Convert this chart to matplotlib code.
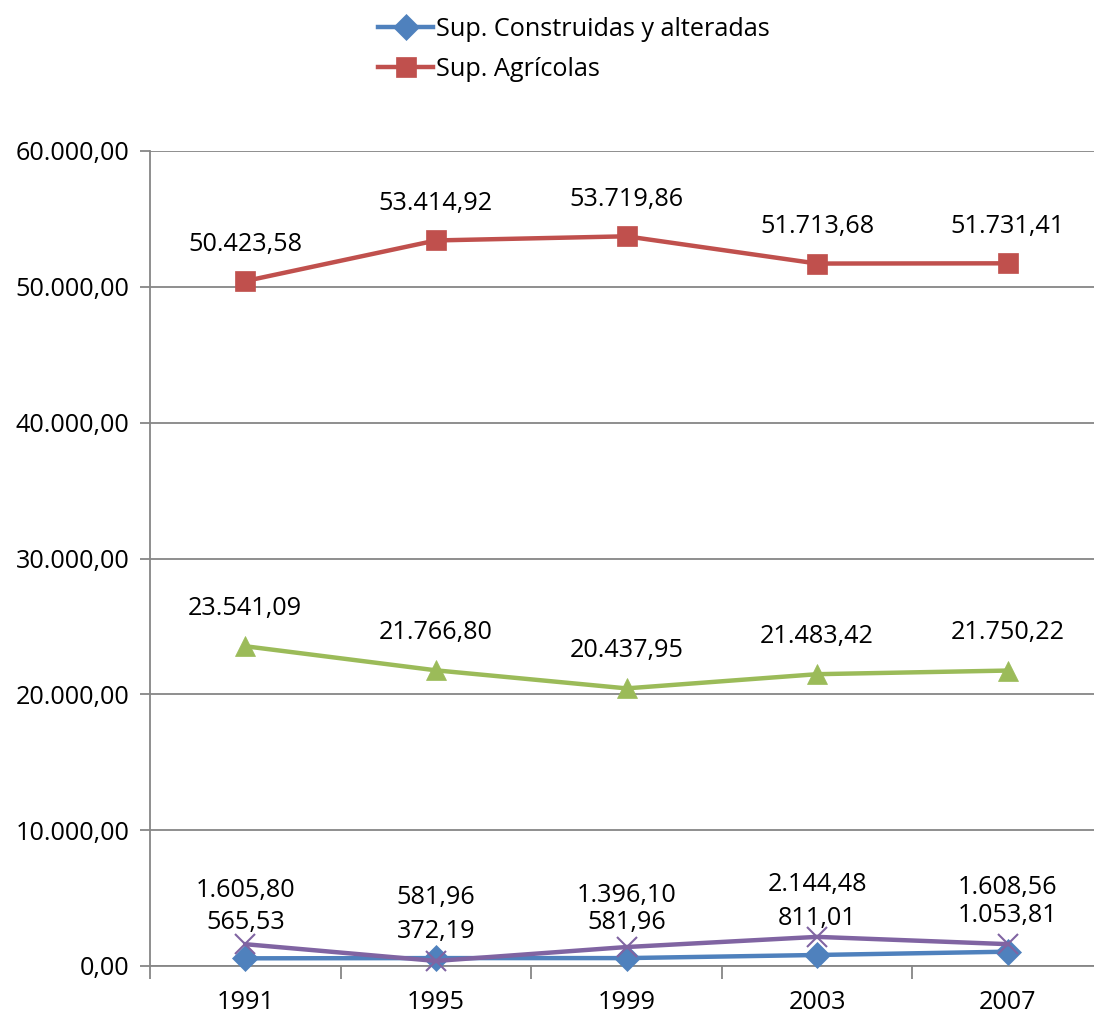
import matplotlib
matplotlib.use("Agg")
import matplotlib.pyplot as plt
from matplotlib.ticker import FuncFormatter, FixedLocator

plt.rcParams["font.family"] = ["Open Sans", "DejaVu Sans"]

years = ["1991", "1995", "1999", "2003", "2007"]
construidas = [565.53, 581.96, 581.96, 811.01, 1053.81]
agricolas = [50423.58, 53414.92, 53719.86, 51713.68, 51731.41]
forestales = [23541.09, 21766.80, 20437.95, 21483.42, 21750.22]
otras = [1605.80, 372.19, 1396.10, 2144.48, 1608.56]

FS = 18.2


def es_num(v):
    s = f"{v:,.2f}"
    return s.replace(",", "X").replace(".", ",").replace("X", ".")


fig = plt.figure(figsize=(10.94, 10.17), dpi=100)
ax = fig.add_axes([150 / 1094, 1 - 966 / 1017, 953 / 1094, 815 / 1017])

x = list(range(len(years)))
series = [
    ("Sup. Construidas y alteradas", construidas, "#4F81BD", "D", 13, [36, 61, 36, 36, 36]),
    ("Sup. Agrícolas", agricolas, "#C0504D", "s", 15, [37] * 5),
    (None, forestales, "#9BBB59", "^", 15, [38] * 5),
    (None, otras, "#8064A2", "x", 14, [54, 29, 52, 52, 57]),
]
handles = []
for label, vals, color, marker, ms, offs in series:
    (ln,) = ax.plot(x, vals, color=color, lw=3.2, marker=marker, ms=ms,
                    mec=color, mew=1.5 if marker == "x" else 0.5, label=label,
                    solid_joinstyle="round", clip_on=False, zorder=3)
    if label:
        handles.append(ln)
    for xi, v, o in zip(x, vals, offs):
        ax.annotate(es_num(v), (xi, v), xytext=(0, o), textcoords="offset pixels",
                    ha="center", va="center", fontsize=FS, color="#000000")

ax.set_xlim(-0.5, 4.5)
ax.set_ylim(0, 60000)
ax.set_yticks(range(0, 60001, 10000))
ax.yaxis.set_major_formatter(FuncFormatter(lambda v, p: es_num(v)))
ax.set_xticks(x)
ax.set_xticklabels(years)
ax.xaxis.set_minor_locator(FixedLocator([i - 0.5 for i in range(len(years) + 1)]))
ax.tick_params(axis="x", which="major", length=0, pad=17, labelsize=FS)
ax.tick_params(axis="x", which="minor", length=9, width=1.3, color="#868686")
ax.tick_params(axis="y", length=7, width=1.3, color="#868686", pad=8, labelsize=FS)

ax.grid(axis="y", color="#868686", lw=1.3)
ax.set_axisbelow(True)
for side in ["top", "right"]:
    ax.spines[side].set_visible(False)
for side in ["left", "bottom"]:
    ax.spines[side].set_color("#868686")
    ax.spines[side].set_linewidth(1.3)

fig.legend(handles=handles, loc="upper left", bbox_to_anchor=(355 / 1094, 1 + 6 / 1017),
           frameon=False, fontsize=FS, handlelength=2.2, handletextpad=0.1,
           labelspacing=0.6)

fig.savefig("out.png", dpi=100)
